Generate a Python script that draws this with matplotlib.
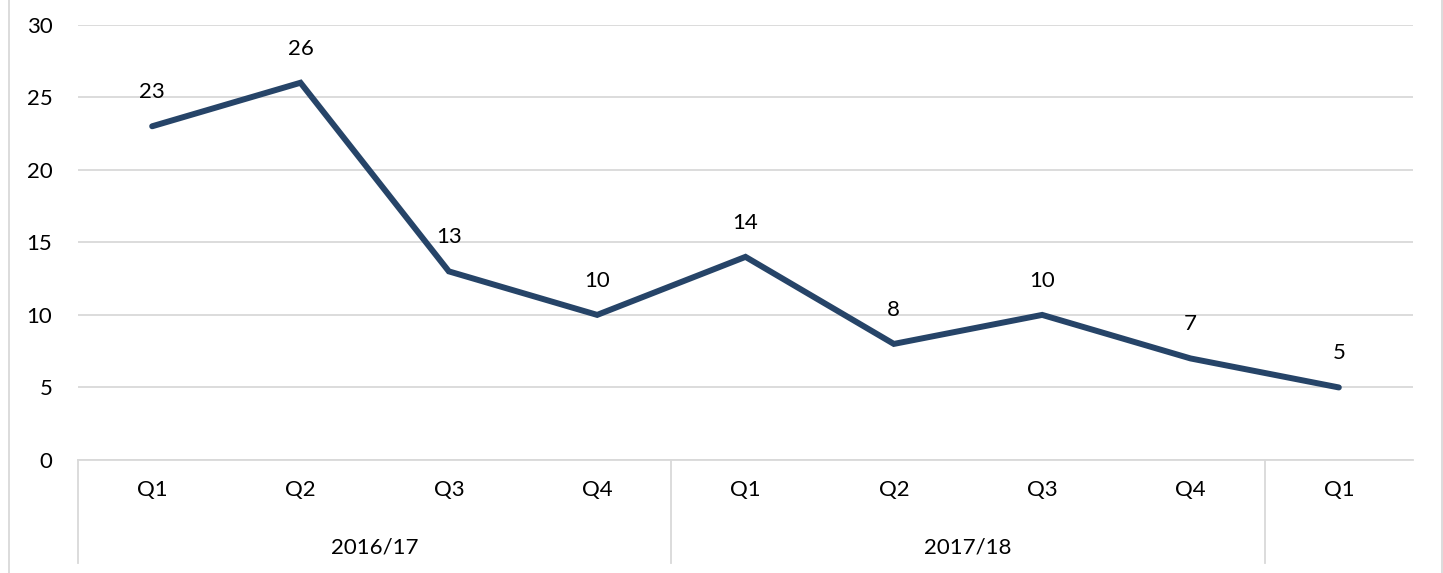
import matplotlib
matplotlib.use('Agg')
import matplotlib.pyplot as plt
from matplotlib.lines import Line2D
from matplotlib.transforms import blended_transform_factory

plt.rcParams['font.family'] = ['Lato', 'DejaVu Sans']

# quarterly values
quarters = ['Q1', 'Q2', 'Q3', 'Q4', 'Q1', 'Q2', 'Q3', 'Q4', 'Q1']
values = [23, 26, 13, 10, 14, 8, 10, 7, 5]
years = ['2016/17', '2017/18', '']
year_sizes = [4, 4, 1]

line_color = '#264468'
grid_color = '#D9D9D9'
fs = 16

W, H = 1443, 573
fig = plt.figure(figsize=(W / 100, H / 100), dpi=100)
ax = fig.add_axes([78 / W, (H - 460) / H, (1413 - 78) / W, (460 - 24.7) / H])

x = list(range(len(values)))
ax.plot(x, values, color=line_color, linewidth=4.3,
        solid_capstyle='round', solid_joinstyle='miter', zorder=3)
for xi, v in zip(x, values):
    ax.annotate(str(v), (xi, v), xytext=(0, 34), textcoords='offset pixels',
                ha='center', va='center', fontsize=fs, color='black')

ax.set_xlim(-0.5, len(values) - 0.5)
ax.set_ylim(0, 30)
ax.set_yticks(range(0, 31, 5))
ax.yaxis.grid(True, color=grid_color, linewidth=1.3)
ax.set_axisbelow(True)
ax.tick_params(axis='y', length=0, pad=18.5, labelsize=fs)
ax.tick_params(axis='x', length=0, labelbottom=False)
for s in ['top', 'right', 'left']:
    ax.spines[s].set_visible(False)
ax.spines['bottom'].set_color(grid_color)
ax.spines['bottom'].set_linewidth(1.3)

# two-level category axis
trans = blended_transform_factory(ax.transData, ax.transAxes)
for xi, q in zip(x, quarters):
    ax.text(xi, -0.069, q, transform=trans, ha='center', va='center', fontsize=fs)

start = -0.5
sep_bottom = -(563 - 460) / (460 - 24.7)
for name, n in zip(years, year_sizes):
    ax.add_line(Line2D([start, start], [0, sep_bottom], transform=trans,
                       color=grid_color, linewidth=1.3, clip_on=False))
    if name:
        ax.text(start + n / 2, -0.202, name, transform=trans,
                ha='center', va='center', fontsize=fs)
    start += n

# chart frame edges
for px in (8.5, 1441.5):
    fig.add_artist(Line2D([px / W, px / W], [0, 1], color=grid_color, linewidth=1.3))

fig.savefig('out.png', dpi=100)
